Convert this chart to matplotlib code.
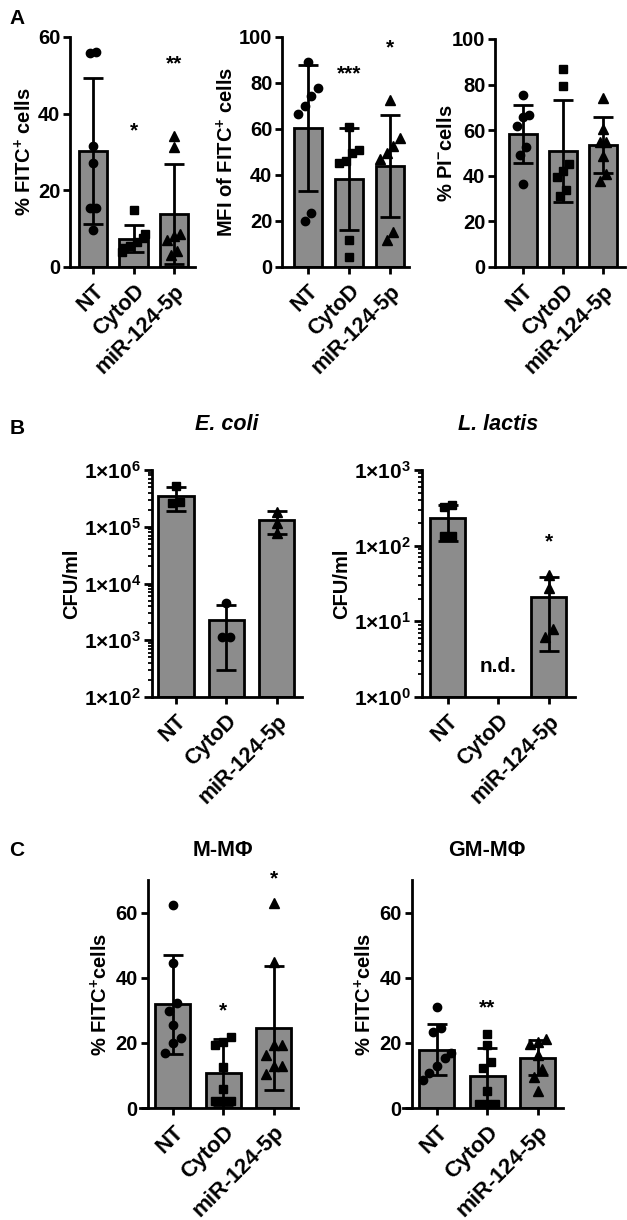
import numpy as np
import matplotlib
matplotlib.use("Agg")
import matplotlib.pyplot as plt
from matplotlib.ticker import LogLocator, NullFormatter, FuncFormatter

plt.rcParams["font.family"] = ["Liberation Sans", "DejaVu Sans"]
plt.rcParams["font.weight"] = "bold"
plt.rcParams["axes.labelweight"] = "bold"
plt.rcParams["mathtext.fontset"] = "custom"
plt.rcParams["mathtext.rm"] = "Liberation Sans:bold"
plt.rcParams["mathtext.it"] = "Liberation Sans:bold:italic"
plt.rcParams["mathtext.bf"] = "Liberation Sans:bold"
plt.rcParams["mathtext.default"] = "rm"

groups = ["NT", "CytoD", "miR-124-5p"]
markers_ac = ["o", "s", "^"]
markers_b = ["s", "o", "^"]

# panel A1: % FITC+ cells
a1_mean = [30.2, 7.4, 13.9]
a1_sd = [19.0, 3.5, 13.0]
a1_pts = [[55.7, 56.1, 31.6, 27.0, 15.5, 15.5, 9.7],
          [14.8, 8.5, 7.5, 6.5, 5.5, 5.0, 4.0],
          [31.3, 34.1, 8.5, 7.0, 8.0, 4.3, 3.0]]
a1_stars = [None, (35.6, "*"), (53.0, "**")]

# panel A2: MFI of FITC+ cells
a2_mean = [60.5, 38.2, 43.9]
a2_sd = [27.3, 22.1, 22.2]
a2_pts = [[89.1, 74.3, 69.9, 78.0, 66.7, 23.5, 20.0],
          [60.9, 49.6, 51.0, 45.0, 46.0, 11.6, 4.3],
          [72.5, 56.0, 52.6, 49.6, 47.0, 11.9, 15.2]]
a2_stars = [None, (83.8, "***"), (95.2, "*")]

# panel A3: % PI- cells
a3_mean = [58.3, 51.0, 53.4]
a3_sd = [12.8, 22.4, 12.2]
a3_pts = [[75.4, 66.7, 66.0, 61.7, 52.6, 49.3, 36.4],
          [87.0, 79.5, 45.3, 42.0, 39.3, 33.6, 31.3],
          [74.1, 60.5, 54.8, 54.8, 48.5, 40.9, 37.9]]

# panel B1: E. coli CFU/ml
b1_mean = [3.5e5, 2.25e3, 1.31e5]
b1_sd = [1.6e5, 1.95e3, 0.55e5]
b1_pts = [[5.2e5, 2.6e5, 2.7e5],
          [4.5e3, 1.15e3, 1.15e3],
          [1.8e5, 1.15e5, 7.8e4]]

# panel B2: L. lactis CFU/ml (CytoD not detected)
b2_mean = [229.0, np.nan, 21.0]
b2_sd = [115.0, np.nan, 17.0]
b2_pts = [[340.0, 320.0, 136.0, 134.0],
          [],
          [40.8, 27.7, 6.2, 8.0]]
b2_stars = [None, None, (112.0, "*")]

# panel C1: M-MPhi % FITC+ cells
c1_mean = [31.8, 10.7, 24.5]
c1_sd = [15.2, 10.4, 19.1]
c1_pts = [[62.4, 44.6, 32.3, 29.9, 25.5, 21.4, 19.9, 17.0],
          [21.7, 20.4, 19.4, 12.6, 5.8, 2.0, 2.0, 2.0],
          [62.8, 44.9, 19.4, 19.4, 16.3, 12.8, 12.8, 10.5]]
c1_stars = [None, (29.8, "*"), (70.3, "*")]

# panel C2: GM-MPhi % FITC+ cells
c2_mean = [17.9, 9.7, 15.5]
c2_sd = [7.8, 8.7, 5.5]
c2_pts = [[31.1, 24.5, 23.2, 17.0, 15.3, 12.8, 10.7, 8.7],
          [22.8, 19.2, 14.0, 12.4, 5.1, 1.3, 1.3, 1.3],
          [21.1, 20.4, 19.6, 16.3, 11.9, 9.4, 5.1]]
c2_stars = [None, (30.6, "**"), None]

W, H = 627, 1220
fig = plt.figure(figsize=(W / 100, H / 100), dpi=100)


def box(left, top, right, bottom):
    return [left / W, 1 - bottom / H, (right - left) / W, (bottom - top) / H]


def spread(vals, thr):
    v = np.asarray(vals, float)
    order = np.argsort(v)
    off = np.zeros(len(v))
    i = 0
    while i < len(order):
        j = i
        while j + 1 < len(order) and v[order[j + 1]] - v[order[j]] < thr:
            j += 1
        k = j - i + 1
        off[order[i:j + 1]] = (np.arange(k) - (k - 1) / 2) * 0.16
        i = j + 1
    return np.clip(off, -0.28, 0.28)


def panel(ax, means, sds, pts, ylim, xlim, spine_x=None, log=False,
          stars=None, markers=markers_ac, ytick_fs=14.5, xtick_fs=15.5):
    ax.set_xlim(*xlim)
    if log:
        ax.set_yscale("log")
    ax.set_ylim(*ylim)
    for i in range(3):
        if np.isnan(means[i]):
            continue
        if log:
            ax.bar(i, means[i] - ylim[0], bottom=ylim[0], width=0.7,
                   color="#8c8c8c", edgecolor="black", linewidth=2, zorder=1)
        else:
            ax.bar(i, means[i], width=0.7, color="#8c8c8c",
                   edgecolor="black", linewidth=2, zorder=1)
        vals = np.asarray(pts[i], float)
        if log:
            off = spread(np.log10(vals), 0.12)
        else:
            off = spread(vals, 0.045 * (ylim[1] - ylim[0]))
        ms = 6.5 if markers[i] == "^" else 6
        ax.plot(i + off, vals, linestyle="none", marker=markers[i], ms=ms,
                color="black", zorder=3, clip_on=False)
        ax.errorbar(i, means[i], yerr=sds[i], fmt="none", ecolor="black",
                    elinewidth=2, capsize=7, capthick=2, zorder=4)
    if stars:
        for i, s in enumerate(stars):
            if s is not None:
                ax.text(i, s[0], s[1], ha="center", va="center", fontsize=15)
    for side in ["top", "right"]:
        ax.spines[side].set_visible(False)
    for side in ["left", "bottom"]:
        ax.spines[side].set_linewidth(2)
    if spine_x is not None:
        ax.spines["left"].set_position(("data", spine_x))
    ax.set_xticks(range(3))
    ax.set_xticklabels(groups, rotation=45, ha="right",
                       rotation_mode="anchor", fontsize=xtick_fs)
    ax.tick_params(axis="both", which="major", width=2, length=5)
    ax.tick_params(axis="y", which="major", labelsize=ytick_fs, pad=2)
    ax.tick_params(axis="x", pad=5)


# row A
ax = fig.add_axes(box(70, 37, 195, 267))
panel(ax, a1_mean, a1_sd, a1_pts, (0, 60), (-0.57, 2.52), stars=a1_stars)
ax.set_yticks([0, 20, 40, 60])
ax.set_ylabel("% FITC$^{+}$ cells", fontsize=14.5, labelpad=2)

ax = fig.add_axes(box(282, 37, 409, 267))
panel(ax, a2_mean, a2_sd, a2_pts, (0, 100), (-0.63, 2.46), stars=a2_stars)
ax.set_yticks([0, 20, 40, 60, 80, 100])
ax.set_ylabel("MFI of FITC$^{+}$ cells", fontsize=14.5, labelpad=1)

ax = fig.add_axes(box(495, 39, 625, 267))
panel(ax, a3_mean, a3_sd, a3_pts, (0, 100), (-0.7, 2.55))
ax.set_yticks([0, 20, 40, 60, 80, 100])
ax.set_ylabel("% PI$^{-}$cells", fontsize=14.5, labelpad=-3)

# row B
sup = FuncFormatter(lambda v, p: "1×10$^{%d}$" % round(np.log10(v)))


def log_axis(ax):
    ax.yaxis.set_major_locator(LogLocator(base=10, numticks=10))
    ax.yaxis.set_minor_locator(LogLocator(base=10, subs=np.arange(2, 10),
                                          numticks=20))
    ax.yaxis.set_major_formatter(sup)
    ax.yaxis.set_minor_formatter(NullFormatter())
    ax.tick_params(axis="y", which="minor", width=1.3, length=3)
    ax.tick_params(axis="y", which="major", length=6)
    ax.set_ylabel("CFU/ml", fontsize=14.5, labelpad=2)


ax = fig.add_axes(box(152, 470, 302, 697))
panel(ax, b1_mean, b1_sd, b1_pts, (1e2, 1e6), (-0.475, 2.5), log=True,
      markers=markers_b, ytick_fs=15)
log_axis(ax)
ax.annotate("E. coli", xy=(1, 1.2), xycoords=("data", "axes fraction"),
            ha="center", va="center", fontsize=15.5, style="italic")

ax = fig.add_axes(box(422, 470, 575, 697))
panel(ax, b2_mean, b2_sd, b2_pts, (1e0, 1e3), (-0.51, 2.52), log=True,
      stars=b2_stars, markers=markers_b, ytick_fs=15)
log_axis(ax)
ax.text(1, 2.5, "n.d.", ha="center", va="center", fontsize=15)
ax.annotate("L. lactis", xy=(1, 1.2), xycoords=("data", "axes fraction"),
            ha="center", va="center", fontsize=15.5, style="italic")

# row C
ax = fig.add_axes(box(140, 880, 298, 1108))
panel(ax, c1_mean, c1_sd, c1_pts, (0, 70), (-0.65, 2.48), spine_x=-0.5,
      stars=c1_stars, xtick_fs=16)
ax.set_yticks([0, 20, 40, 60])
ax.set_ylabel("% FITC$^{+}$cells", fontsize=14.5, labelpad=3)
ax.annotate("M-MΦ", xy=(1, 1.13), xycoords=("data", "axes fraction"),
            ha="center", va="center", fontsize=15.5)

ax = fig.add_axes(box(403, 880, 563, 1108))
panel(ax, c2_mean, c2_sd, c2_pts, (0, 70), (-0.67, 2.5), spine_x=-0.5,
      stars=c2_stars, xtick_fs=16)
ax.set_yticks([0, 20, 40, 60])
ax.set_ylabel("% FITC$^{+}$cells", fontsize=14.5, labelpad=3)
ax.annotate("GM-MΦ", xy=(1, 1.13), xycoords=("data", "axes fraction"),
            ha="center", va="center", fontsize=15.5)

fig.text(17 / W, 1 - 18 / H, "A", fontsize=15, ha="center", va="center")
fig.text(17 / W, 1 - 428 / H, "B", fontsize=15, ha="center", va="center")
fig.text(17 / W, 1 - 850 / H, "C", fontsize=15, ha="center", va="center")

fig.savefig("out.png", dpi=100)
